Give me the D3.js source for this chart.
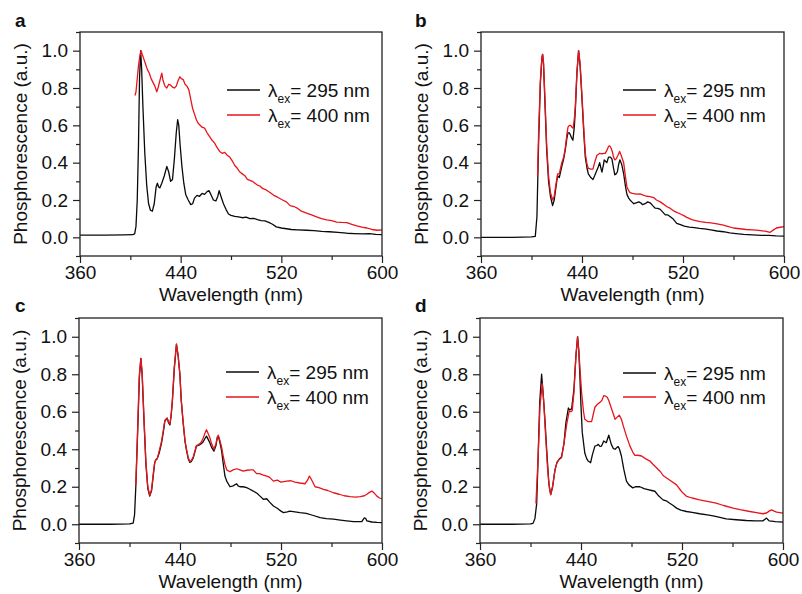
<!DOCTYPE html>
<html><head><meta charset="utf-8">
<script src="https://cdn.jsdelivr.net/npm/d3@7"></script>
<style>
body{margin:0;background:#fff}
svg{display:block}
text{font-family:"Liberation Sans",Arial,Helvetica,sans-serif;fill:#111}
</style>
</head><body>
<svg id="chart" width="802" height="594"></svg>
<script>
// ---------- data ----------
const xTicks=[360,440,520,600];
const xMinor=[400,480,560];
const yTicks=[0,0.2,0.4,0.6,0.8,1.0];
const yMinor=[-0.1,0.1,0.3,0.5,0.7,0.9,1.1];
const panelLabels=["a","b","c","d"];
const excitation=["295","400"];
const xTitle="Wavelength (nm)";
const yTitle="Phosphorescence (a.u.)";

const aBlackX=[360,380,395,402,403.5,404.5,405.5,406.5,407.3,408.2,409,410,411.5,413,414.5,416,417.5,419,420.5,421.5,422.5,423.5,425,427,429,430.5,432,433.5,435,436.5,437.6,438.5,439.5,441,442.5,444,446,448,449.5,451,453,455,457,459,461,462.5,464,466,468,469.5,470.6,472,474,476,478,480,483,486,489,492,495,498,501,504,507,510,513,516,520,524,528,533,540,546,552,558,565,572,578,585,590,595,600];
const aBlackY=[0.012,0.012,0.013,0.014,0.02,0.06,0.2,0.5,0.85,1.0,0.9,0.7,0.45,0.28,0.18,0.145,0.14,0.18,0.27,0.29,0.27,0.265,0.29,0.33,0.38,0.35,0.3,0.31,0.42,0.56,0.63,0.6,0.5,0.38,0.29,0.23,0.2,0.175,0.18,0.21,0.225,0.22,0.235,0.23,0.245,0.25,0.23,0.2,0.195,0.22,0.25,0.22,0.18,0.15,0.125,0.118,0.112,0.11,0.105,0.108,0.1,0.102,0.095,0.09,0.088,0.08,0.07,0.056,0.05,0.046,0.042,0.04,0.038,0.036,0.032,0.03,0.027,0.022,0.02,0.018,0.02,0.016,0.015];
const aRedX=[403.7,404.5,405.5,406.5,407.5,408.5,409.5,410.5,412,413.5,415,416.5,418,419.5,421,422,423.5,425,426,427.5,429,430.5,432,433.5,435,436.5,438,439.4,440.5,442,443.5,445,446.5,448,449.5,451,452.5,454,455.5,457,459,461,463,465,467,469,471,473,475,477,479,481,483,485,487,489,491,493,495,497,499,501,503,505,508,511,514,517,521,524,527,530,533,536,540,544,548,552,556,560,564,568,572,576,580,584,588,592,596,600];
const aRedY=[0.76,0.78,0.85,0.92,0.97,1.0,0.98,0.96,0.93,0.9,0.88,0.85,0.83,0.81,0.78,0.8,0.84,0.88,0.84,0.81,0.8,0.82,0.815,0.805,0.8,0.81,0.84,0.86,0.85,0.845,0.82,0.81,0.79,0.74,0.69,0.66,0.63,0.61,0.6,0.59,0.585,0.56,0.54,0.52,0.505,0.48,0.46,0.45,0.455,0.44,0.43,0.41,0.385,0.37,0.35,0.34,0.33,0.31,0.305,0.3,0.29,0.28,0.275,0.262,0.254,0.24,0.225,0.215,0.2,0.19,0.17,0.165,0.155,0.14,0.13,0.12,0.11,0.1,0.093,0.09,0.082,0.08,0.079,0.07,0.062,0.055,0.05,0.042,0.038,0.04];

const bBlackX=[360,385,400,403,404.3,405.6,407,408.2,408.8,409.5,410.5,412,413.5,415,416.7,418,418.8,420,420.7,422,423,424,425.5,426.8,428,428.9,430,430.7,432,432.8,434,434.7,436,437.3,438.5,440,441.5,442.6,444,445,447,448.7,450,451.8,453,454,455,455.8,457,457.6,459,459.7,461,462.5,463.7,465,466,467,468,469,470,471.5,473,474.5,475.6,477,478,479.5,481,483,485,486.5,488,490,492,494,496,498,500,502,504,506,508,510,512,515,518,521,525,529,533,537,542,547,552,557,562,568,575,582,588,594,600];
const bBlackY=[0,0,0.002,0.005,0.11,0.5,0.82,0.96,0.98,0.93,0.75,0.47,0.3,0.22,0.17,0.2,0.24,0.3,0.33,0.32,0.35,0.38,0.42,0.47,0.53,0.56,0.56,0.55,0.53,0.52,0.6,0.68,0.88,1.0,0.92,0.74,0.55,0.43,0.37,0.34,0.32,0.31,0.33,0.36,0.38,0.4,0.37,0.35,0.39,0.415,0.405,0.4,0.43,0.43,0.42,0.37,0.335,0.34,0.35,0.39,0.415,0.39,0.34,0.27,0.23,0.21,0.2,0.19,0.18,0.185,0.19,0.185,0.175,0.18,0.19,0.185,0.17,0.156,0.155,0.15,0.135,0.12,0.12,0.11,0.1,0.075,0.068,0.06,0.055,0.052,0.048,0.045,0.04,0.034,0.03,0.024,0.02,0.016,0.013,0.011,0.01,0.008,0.007];
const bRedX=[404.8,405.6,407,408.2,408.8,409.5,410.5,412,413.5,415,416.7,418,418.8,420,420.7,422,423,424,425.5,426.8,428,428.9,430,431,432,433,434,434.7,436,437.3,438.5,440,441.5,442.6,444,445,447,448.7,450,451.8,453,454,455.8,457,458.4,460,461,462,462.9,464,465,466,467,468.5,469.8,471,472,473,474.5,475.6,477,478,480,483,486,488,491,494,496.7,499,502,504.5,507,510,513,515,518,521,523,527,530,533.6,538,542,547,552,556,560,565,570,575,580,585,589,591.7,594,597,600];
const bRedY=[0.33,0.55,0.84,0.96,0.98,0.94,0.77,0.5,0.33,0.24,0.2,0.22,0.26,0.31,0.34,0.34,0.37,0.4,0.43,0.48,0.55,0.59,0.6,0.6,0.59,0.585,0.64,0.7,0.89,1.0,0.93,0.755,0.57,0.45,0.39,0.37,0.365,0.365,0.4,0.44,0.445,0.45,0.447,0.45,0.45,0.47,0.487,0.49,0.48,0.46,0.43,0.415,0.42,0.44,0.46,0.44,0.42,0.4,0.32,0.27,0.25,0.24,0.235,0.232,0.233,0.228,0.22,0.218,0.213,0.2,0.19,0.178,0.165,0.155,0.14,0.134,0.125,0.115,0.107,0.095,0.09,0.084,0.08,0.077,0.072,0.065,0.058,0.05,0.046,0.042,0.04,0.037,0.033,0.027,0.04,0.05,0.054,0.057];

const cBlackX=[360,385,400,402.9,404,405,406.5,407.8,409,410,411.5,413,414.5,416,417.5,419,420,421,422,423.5,425.3,427,428,429.8,431,432,433,434,435.5,437.2,438.5,439.9,441,442.5,444,445,446.5,447.8,449,450.5,452,453,454.5,455.8,457,458.4,460,461,462.5,463.7,465,466.9,468.5,469.5,470.3,471.5,473,474.3,475.6,477,479.6,482,484.9,486,487.5,490,492.8,495,498,501,503.4,506,508.7,511,514,517,520,522,525,527,531,535,540,545,551,556,561.6,567,572,577.5,584,585,586,587,588,592,596,600];
const cBlackY=[0,0,0.002,0.006,0.05,0.2,0.5,0.78,0.885,0.8,0.55,0.32,0.19,0.15,0.18,0.27,0.33,0.345,0.35,0.38,0.43,0.5,0.55,0.566,0.54,0.53,0.58,0.66,0.83,0.96,0.9,0.8,0.66,0.54,0.44,0.4,0.35,0.33,0.335,0.354,0.39,0.416,0.42,0.425,0.43,0.44,0.46,0.47,0.45,0.433,0.41,0.39,0.42,0.46,0.47,0.44,0.39,0.32,0.257,0.23,0.2,0.205,0.216,0.205,0.2,0.2,0.195,0.188,0.177,0.165,0.15,0.133,0.136,0.118,0.097,0.085,0.07,0.062,0.066,0.07,0.066,0.062,0.058,0.048,0.035,0.03,0.027,0.022,0.018,0.014,0.014,0.025,0.034,0.032,0.018,0.012,0.01,0.009];
const cRedX=[405,406.5,407.8,409,410,411.5,413,414.5,416,417.5,419,420,421,422,423.5,425.3,427,428,429.8,431,432,433,434,435.5,437.2,438.5,439.9,441,442.5,444,445,446.5,447.8,449,450.5,452,453,454.5,455.8,457,458.4,460,461,462.5,463.7,465,466.9,468.5,469.5,470.3,471.5,473,474.3,475.6,477,479.6,482,485,487.5,490,493,496,498,500.7,503,506,508.7,511,514,517,520,524.5,528,531,535,539,541,542.5,544,547,550,553.7,557,561.6,566,570,574.8,579,582.8,586,588,590,592,594,596,598,600];
const cRedY=[0.21,0.52,0.8,0.885,0.81,0.56,0.33,0.2,0.155,0.185,0.28,0.33,0.345,0.35,0.39,0.44,0.51,0.555,0.566,0.545,0.535,0.585,0.665,0.84,0.96,0.9,0.8,0.66,0.545,0.445,0.405,0.355,0.335,0.34,0.36,0.395,0.42,0.425,0.43,0.44,0.46,0.49,0.504,0.48,0.46,0.43,0.4,0.43,0.465,0.475,0.45,0.41,0.36,0.32,0.29,0.28,0.29,0.296,0.29,0.283,0.288,0.29,0.29,0.27,0.27,0.262,0.257,0.25,0.23,0.235,0.225,0.23,0.232,0.225,0.22,0.216,0.235,0.257,0.24,0.2,0.195,0.186,0.18,0.168,0.16,0.152,0.147,0.145,0.147,0.152,0.16,0.17,0.177,0.165,0.15,0.14,0.136];

const dBlackX=[360,385,400,402,403.5,404.9,406,407.3,408.8,410,411.5,412.8,414.5,416,417.5,419.4,421,422.5,424.6,426.5,428,430,431,432.6,434.4,436,437.3,438.2,439,440,441,443,444.5,445.7,447.6,449,451,452.5,453.7,455,456.3,458,460,461,462,463,464,465.5,467,468.5,469.5,470.5,472,474,476,478,481,483,486.6,490,493,496,498.5,501,505,507.5,510,513,515.7,519,523.6,528,534,540,544.7,550,555,563,571,578,584,586,587,588,589,594,600];
const dBlackY=[0,0,0.002,0.005,0.03,0.11,0.35,0.65,0.8,0.7,0.55,0.4,0.22,0.158,0.2,0.29,0.33,0.345,0.36,0.43,0.54,0.62,0.61,0.615,0.72,0.9,1.0,0.93,0.81,0.63,0.49,0.38,0.35,0.337,0.328,0.37,0.417,0.42,0.426,0.415,0.417,0.444,0.435,0.455,0.475,0.45,0.426,0.405,0.4,0.41,0.414,0.4,0.364,0.29,0.23,0.21,0.194,0.2,0.2,0.19,0.185,0.18,0.176,0.155,0.13,0.125,0.113,0.1,0.086,0.075,0.068,0.063,0.056,0.05,0.045,0.037,0.029,0.024,0.02,0.018,0.018,0.028,0.033,0.025,0.018,0.014,0.011];
const dRedX=[404.3,406,407.5,409.3,410.5,412,413.5,415,416,417.5,419.4,421,422.5,424.6,426.5,428.6,430.7,432,433,434.4,436,437.3,438.5,440.5,442,443,445.7,448.4,449.5,451,453,455,456.5,458,459.5,460.8,462,463,465,467,468.5,470.3,472,473.5,476,478.7,481,482.7,485,488,491,494.6,497,500,503,505,507.8,511,515.7,519,521,523.6,528,534,540,547,553,560.5,566,573.7,579,584,587,589,591,593,595,600];
const dRedY=[0.11,0.35,0.63,0.75,0.65,0.47,0.3,0.19,0.158,0.2,0.29,0.33,0.345,0.355,0.43,0.53,0.605,0.6,0.605,0.7,0.9,1.0,0.9,0.7,0.6,0.56,0.547,0.547,0.58,0.624,0.64,0.65,0.66,0.686,0.683,0.677,0.66,0.64,0.6,0.56,0.57,0.582,0.56,0.525,0.47,0.418,0.385,0.367,0.368,0.364,0.35,0.337,0.32,0.3,0.28,0.26,0.247,0.232,0.21,0.18,0.165,0.149,0.14,0.13,0.122,0.113,0.1,0.086,0.078,0.068,0.062,0.056,0.06,0.07,0.077,0.07,0.065,0.059];

// ---------- layout ----------
const panels=[
  {label:panelLabels[0],x0:80,x1:382,y0:32,y1:256,lx:15,ly:27,legX:227,leg:[90,115],series:[[aBlackX,aBlackY],[aRedX,aRedY]]},
  {label:panelLabels[1],x0:481,x1:784,y0:32,y1:256,lx:415,ly:27,legX:623,leg:[90,115],series:[[bBlackX,bBlackY],[bRedX,bRedY]]},
  {label:panelLabels[2],x0:79,x1:382,y0:318,y1:543,lx:15,ly:312,legX:226,leg:[372,397],series:[[cBlackX,cBlackY],[cRedX,cRedY]]},
  {label:panelLabels[3],x0:480,x1:783,y0:318,y1:543,lx:415,ly:312,legX:623,leg:[373,397],series:[[dBlackX,dBlackY],[dRedX,dRedY]]}
];
const colors=["#0a0a0a","#e8141b"];
const svg=d3.select("#chart");
const FS=19;

panels.forEach(p=>{
  const x=d3.scaleLinear().domain([360,600]).range([p.x0,p.x1]);
  const y=d3.scaleLinear().domain([-0.1,1.1]).range([p.y1,p.y0]);
  const g=svg.append("g");

  // minor ticks
  g.append("g").attr("transform",`translate(0,${p.y1})`)
    .call(d3.axisBottom(x).tickValues(xMinor).tickSize(4).tickSizeOuter(0).tickFormat(""))
    .call(s=>s.select(".domain").remove());
  g.append("g").attr("transform",`translate(${p.x0},0)`)
    .call(d3.axisLeft(y).tickValues(yMinor).tickSize(4).tickSizeOuter(0).tickFormat(""))
    .call(s=>s.select(".domain").remove());
  // major ticks
  const xa=g.append("g").attr("transform",`translate(0,${p.y1})`)
    .call(d3.axisBottom(x).tickValues(xTicks).tickSize(7).tickSizeOuter(0).tickPadding(3).tickFormat(d3.format("d")));
  xa.select(".domain").remove();
  const ya=g.append("g").attr("transform",`translate(${p.x0},0)`)
    .call(d3.axisLeft(y).tickValues(yTicks).tickSize(7).tickSizeOuter(0).tickPadding(5).tickFormat(d3.format(".1f")));
  ya.select(".domain").remove();
  g.selectAll(".tick text").attr("font-size",FS).attr("font-family",null).style("fill","#111");
  g.selectAll(".tick line").attr("stroke","#222").attr("stroke-width",1.2);

  // data lines
  const line=d3.line().x(d=>x(d[0])).y(d=>y(d[1]));
  p.series.forEach((s,i)=>{
    const pts=s[0].map((w,k)=>[w,s[1][k]]);
    g.append("path").datum(pts).attr("d",line)
      .attr("fill","none").attr("stroke",colors[i]).attr("stroke-width",1.3)
      .attr("stroke-linejoin","round");
  });

  // frame
  g.append("rect").attr("x",p.x0).attr("y",p.y0)
    .attr("width",p.x1-p.x0).attr("height",p.y1-p.y0)
    .attr("fill","none").attr("stroke","#222").attr("stroke-width",1.3);

  // axis titles
  g.append("text").attr("x",(p.x0+p.x1)/2).attr("y",p.y1+45)
    .attr("text-anchor","middle").attr("font-size",FS).text(xTitle);
  g.append("text").attr("transform",`translate(${p.x0-53},${(p.y0+p.y1)/2}) rotate(-90)`)
    .attr("text-anchor","middle").attr("font-size",FS).text(yTitle);

  // panel label
  g.append("text").attr("x",p.lx).attr("y",p.ly).attr("font-size",19)
    .attr("font-weight","bold").text(p.label);

  // legend
  const lx0=p.legX;
  excitation.forEach((e,i)=>{
    const ly=p.leg[i];
    g.append("line").attr("x1",lx0).attr("x2",lx0+33).attr("y1",ly).attr("y2",ly)
      .attr("stroke",colors[i]).attr("stroke-width",1.3);
    const t=g.append("text").attr("x",lx0+41).attr("y",ly+6.5).attr("font-size",FS);
    t.append("tspan").text("λ");
    t.append("tspan").attr("font-size",12).attr("dy",6).text("ex");
    t.append("tspan").attr("dy",-6).text("= "+e+" nm");
  });
});
</script>
</body></html>
